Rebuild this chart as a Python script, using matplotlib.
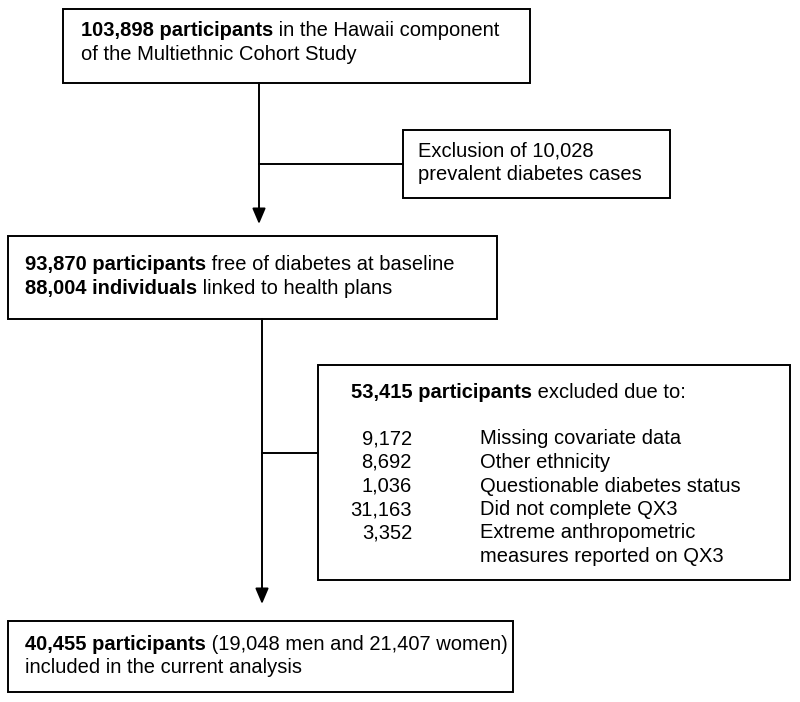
import matplotlib
matplotlib.use("Agg")
import matplotlib.pyplot as plt
from matplotlib.patches import Rectangle

plt.rcParams['font.family'] = ['Liberation Sans', 'DejaVu Sans']

# ---- data ----
total_bold = "103,898 participants"
total_rest = " in the Hawaii component"
total_line2 = "of the Multiethnic Cohort Study"
excl1_lines = ["Exclusion of 10,028", "prevalent diabetes cases"]
free_bold = "93,870 participants"
free_rest = " free of diabetes at baseline"
linked_bold = "88,004 individuals"
linked_rest = " linked to health plans"
excl2_bold = "53,415 participants"
excl2_rest = " excluded due to:"
excl2_counts = ["9,172", "8,692", "1,036", "31,163", "3,352"]
excl2_reasons = ["Missing covariate data", "Other ethnicity",
                 "Questionable diabetes status", "Did not complete QX3",
                 "Extreme anthropometric\nmeasures reported on QX3"]
final_bold = "40,455 participants"
final_rest = " (19,048 men and 21,407 women)"
final_line2 = "included in the current analysis"

W, H = 800, 702
fig = plt.figure(figsize=(W / 100, H / 100), dpi=100)
ax = fig.add_axes([0, 0, 1, 1])
ax.set_xlim(0, W)
ax.set_ylim(H, 0)
ax.axis('off')

FS = 14.5
LW = 1.4
LH = 23.5  # line height in px


def box(x0, y0, x1, y1):
    ax.add_patch(Rectangle((x0, y0), x1 - x0, y1 - y0, fill=False,
                           edgecolor='black', lw=LW))


def mixed(x, y, bold, rest):
    t = ax.text(x, y, bold, fontsize=FS, fontweight='bold', va='center', ha='left')
    ax.annotate(rest, xy=(1, 0), xycoords=t, va='bottom', ha='left', fontsize=FS)


def arrow(x, y0, y1):
    ax.annotate('', xy=(x, y1), xytext=(x, y0),
                arrowprops=dict(arrowstyle='-|>,head_length=0.47,head_width=0.2',
                                mutation_scale=20, lw=LW, color='black',
                                shrinkA=0, shrinkB=0))


# boxes
box(63, 9, 530, 83)
box(403, 130, 670, 198)
box(8, 236, 497, 319)
box(318, 365, 790, 580)
box(8, 621, 513, 692)

# connectors
arrow(259, 83, 224)
ax.plot([259, 403], [164, 164], color='black', lw=LW)
arrow(262, 319, 604)
ax.plot([262, 318], [453, 453], color='black', lw=LW)

# texts
mixed(81, 31, total_bold, total_rest)
ax.text(81, 31 + LH, total_line2, fontsize=FS, va='center', ha='left')

ax.text(418, 151, excl1_lines[0], fontsize=FS, va='center', ha='left')
ax.text(418, 151 + LH, excl1_lines[1], fontsize=FS, va='center', ha='left')

mixed(25, 265, free_bold, free_rest)
mixed(25, 265 + LH, linked_bold, linked_rest)

mixed(351, 392, excl2_bold, excl2_rest)
y = 439
for c, r in zip(excl2_counts, excl2_reasons):
    ax.text(412, y, c, fontsize=FS, va='center', ha='right')
    for part in r.split('\n'):
        ax.text(480, y, part, fontsize=FS, va='center', ha='left')
        y += LH

mixed(25, 644, final_bold, final_rest)
ax.text(25, 644 + LH, final_line2, fontsize=FS, va='center', ha='left')

fig.savefig('out.png', dpi=100, facecolor='white')
